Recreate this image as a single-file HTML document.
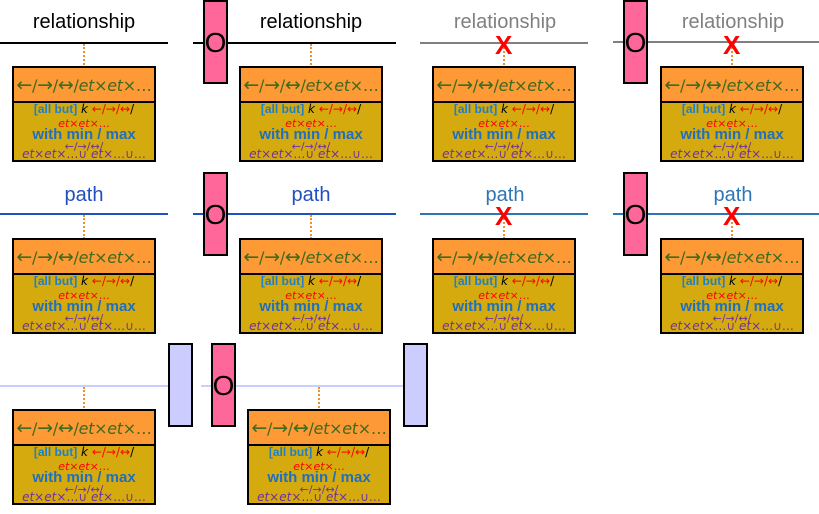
<!DOCTYPE html>
<html><head><meta charset="utf-8"><style>
body{margin:0;width:819px;height:514px;background:#fff;position:relative;overflow:hidden;font-family:"Liberation Sans",sans-serif}
.ln{position:absolute;height:2px}
.lbl{position:absolute;font-size:20px;text-align:center;width:200px}
.pk{position:absolute;width:21px;height:80px;background:#ff6699;border:2px solid #000;}
.pk span{position:absolute;left:-4px;width:29px;text-align:center;top:26px;font-size:28px;color:#000;line-height:30px}
.lv{position:absolute;width:21px;height:80px;background:#ccccff;border:2px solid #000}
.dot{position:absolute;width:0;border-left:2px dotted #f0902a;height:24px}
.x{position:absolute;color:#f00;font-weight:bold;font-size:26px;line-height:26px}
.box{position:absolute;width:140px;height:92px;border:2px solid #000;background:#d4aa0e;overflow:hidden}
.hd{height:33px;background:#fd9a35;border-bottom:2px solid #000;text-align:center;line-height:35px;font-size:16px;color:#3f6a1f;font-family:"DejaVu Sans",sans-serif;white-space:nowrap;letter-spacing:-0.3px}
.hd i,.b i{font-style:italic}
.ar{font-size:19px}
.b{position:absolute;left:0;width:140px;text-align:center;white-space:nowrap;font-family:"DejaVu Sans",sans-serif;line-height:1.1}
</style></head><body>

<div class="ln" style="left:0;top:42px;width:168px;background:#000"></div>
<div class="lbl" style="left:-16px;top:11px;color:#000">relationship</div>
<div class="ln" style="left:193px;top:42px;width:203px;background:#000"></div>
<div class="lbl" style="left:211px;top:11px;color:#000">relationship</div>
<div class="ln" style="left:420px;top:42px;width:168px;background:#808080"></div>
<div class="lbl" style="left:405px;top:11px;color:#808080">relationship</div>
<div class="ln" style="left:613px;top:41px;width:206px;background:#808080"></div>
<div class="lbl" style="left:633px;top:11px;color:#808080">relationship</div>
<div class="pk" style="left:203px;top:0px"><span>O</span></div>
<div class="pk" style="left:623px;top:0px"><span>O</span></div>

<div class="ln" style="left:0;top:213px;width:168px;background:#1f4fc0"></div>
<div class="lbl" style="left:-16px;top:184px;color:#1f4fc0">path</div>
<div class="ln" style="left:193px;top:213px;width:203px;background:#1f4fc0"></div>
<div class="lbl" style="left:211px;top:184px;color:#1f4fc0">path</div>
<div class="ln" style="left:420px;top:213px;width:168px;background:#2e75b6"></div>
<div class="lbl" style="left:405px;top:184px;color:#2e75b6">path</div>
<div class="ln" style="left:613px;top:213px;width:206px;background:#2e75b6"></div>
<div class="lbl" style="left:633px;top:184px;color:#2e75b6">path</div>
<div class="pk" style="left:203px;top:172px"><span>O</span></div>
<div class="pk" style="left:623px;top:172px"><span>O</span></div>

<div class="ln" style="left:0;top:385px;width:170px;background:#ccccff"></div>
<div class="ln" style="left:201px;top:385px;width:205px;background:#ccccff"></div>
<div class="lv" style="left:168px;top:343px"></div>
<div class="pk" style="left:211px;top:343px"><span>O</span></div>
<div class="lv" style="left:403px;top:343px"></div>

<div class="dot" style="left:83px;top:44px"></div>
<div class="dot" style="left:310px;top:44px"></div>
<div class="dot" style="left:503px;top:44px"></div>
<div class="dot" style="left:731px;top:44px"></div>
<div class="dot" style="left:83px;top:215px"></div>
<div class="dot" style="left:310px;top:215px"></div>
<div class="dot" style="left:503px;top:215px"></div>
<div class="dot" style="left:731px;top:215px"></div>
<div class="dot" style="left:83px;top:387px"></div>
<div class="dot" style="left:318px;top:387px"></div>

<div class="x" style="left:495px;top:32px">X</div>
<div class="x" style="left:723px;top:32px">X</div>
<div class="x" style="left:495px;top:203px">X</div>
<div class="x" style="left:723px;top:203px">X</div>

<div class="box" style="left:12px;top:66px">
<div class="hd"><span class="ar">←</span>/<span class="ar">→</span>/<span class="ar">↔</span>/<i>et</i>×<i>et</i>×…</div>
<div class="b" style="top:35px;font-size:12px"><b style="color:#1f7fc8;font-family:'Liberation Sans'">[all but]</b> <i>k</i> <span style="color:#f00">←/→/↔</span>/</div>
<div class="b" style="top:50px;font-size:11px;color:#f00"><i>et</i>×<i>et</i>×…</div>
<div class="b" style="top:59px;font-size:15px;color:#1f6fc0;font-weight:bold;font-family:'Liberation Sans'">with min / max</div>
<div class="b" style="top:73px;font-size:11px;color:#7030a0">←/→/↔/</div>
<div class="b" style="top:80px;font-size:12px;color:#7030a0"><i>et</i>×<i>et</i>×…∪ <i>et</i>×…∪…</div>
</div>
<div class="box" style="left:239px;top:66px">
<div class="hd"><span class="ar">←</span>/<span class="ar">→</span>/<span class="ar">↔</span>/<i>et</i>×<i>et</i>×…</div>
<div class="b" style="top:35px;font-size:12px"><b style="color:#1f7fc8;font-family:'Liberation Sans'">[all but]</b> <i>k</i> <span style="color:#f00">←/→/↔</span>/</div>
<div class="b" style="top:50px;font-size:11px;color:#f00"><i>et</i>×<i>et</i>×…</div>
<div class="b" style="top:59px;font-size:15px;color:#1f6fc0;font-weight:bold;font-family:'Liberation Sans'">with min / max</div>
<div class="b" style="top:73px;font-size:11px;color:#7030a0">←/→/↔/</div>
<div class="b" style="top:80px;font-size:12px;color:#7030a0"><i>et</i>×<i>et</i>×…∪ <i>et</i>×…∪…</div>
</div>
<div class="box" style="left:432px;top:66px">
<div class="hd"><span class="ar">←</span>/<span class="ar">→</span>/<span class="ar">↔</span>/<i>et</i>×<i>et</i>×…</div>
<div class="b" style="top:35px;font-size:12px"><b style="color:#1f7fc8;font-family:'Liberation Sans'">[all but]</b> <i>k</i> <span style="color:#f00">←/→/↔</span>/</div>
<div class="b" style="top:50px;font-size:11px;color:#f00"><i>et</i>×<i>et</i>×…</div>
<div class="b" style="top:59px;font-size:15px;color:#1f6fc0;font-weight:bold;font-family:'Liberation Sans'">with min / max</div>
<div class="b" style="top:73px;font-size:11px;color:#7030a0">←/→/↔/</div>
<div class="b" style="top:80px;font-size:12px;color:#7030a0"><i>et</i>×<i>et</i>×…∪ <i>et</i>×…∪…</div>
</div>
<div class="box" style="left:660px;top:66px">
<div class="hd"><span class="ar">←</span>/<span class="ar">→</span>/<span class="ar">↔</span>/<i>et</i>×<i>et</i>×…</div>
<div class="b" style="top:35px;font-size:12px"><b style="color:#1f7fc8;font-family:'Liberation Sans'">[all but]</b> <i>k</i> <span style="color:#f00">←/→/↔</span>/</div>
<div class="b" style="top:50px;font-size:11px;color:#f00"><i>et</i>×<i>et</i>×…</div>
<div class="b" style="top:59px;font-size:15px;color:#1f6fc0;font-weight:bold;font-family:'Liberation Sans'">with min / max</div>
<div class="b" style="top:73px;font-size:11px;color:#7030a0">←/→/↔/</div>
<div class="b" style="top:80px;font-size:12px;color:#7030a0"><i>et</i>×<i>et</i>×…∪ <i>et</i>×…∪…</div>
</div>

<div class="box" style="left:12px;top:238px">
<div class="hd"><span class="ar">←</span>/<span class="ar">→</span>/<span class="ar">↔</span>/<i>et</i>×<i>et</i>×…</div>
<div class="b" style="top:35px;font-size:12px"><b style="color:#1f7fc8;font-family:'Liberation Sans'">[all but]</b> <i>k</i> <span style="color:#f00">←/→/↔</span>/</div>
<div class="b" style="top:50px;font-size:11px;color:#f00"><i>et</i>×<i>et</i>×…</div>
<div class="b" style="top:59px;font-size:15px;color:#1f6fc0;font-weight:bold;font-family:'Liberation Sans'">with min / max</div>
<div class="b" style="top:73px;font-size:11px;color:#7030a0">←/→/↔/</div>
<div class="b" style="top:80px;font-size:12px;color:#7030a0"><i>et</i>×<i>et</i>×…∪ <i>et</i>×…∪…</div>
</div>
<div class="box" style="left:239px;top:238px">
<div class="hd"><span class="ar">←</span>/<span class="ar">→</span>/<span class="ar">↔</span>/<i>et</i>×<i>et</i>×…</div>
<div class="b" style="top:35px;font-size:12px"><b style="color:#1f7fc8;font-family:'Liberation Sans'">[all but]</b> <i>k</i> <span style="color:#f00">←/→/↔</span>/</div>
<div class="b" style="top:50px;font-size:11px;color:#f00"><i>et</i>×<i>et</i>×…</div>
<div class="b" style="top:59px;font-size:15px;color:#1f6fc0;font-weight:bold;font-family:'Liberation Sans'">with min / max</div>
<div class="b" style="top:73px;font-size:11px;color:#7030a0">←/→/↔/</div>
<div class="b" style="top:80px;font-size:12px;color:#7030a0"><i>et</i>×<i>et</i>×…∪ <i>et</i>×…∪…</div>
</div>
<div class="box" style="left:432px;top:238px">
<div class="hd"><span class="ar">←</span>/<span class="ar">→</span>/<span class="ar">↔</span>/<i>et</i>×<i>et</i>×…</div>
<div class="b" style="top:35px;font-size:12px"><b style="color:#1f7fc8;font-family:'Liberation Sans'">[all but]</b> <i>k</i> <span style="color:#f00">←/→/↔</span>/</div>
<div class="b" style="top:50px;font-size:11px;color:#f00"><i>et</i>×<i>et</i>×…</div>
<div class="b" style="top:59px;font-size:15px;color:#1f6fc0;font-weight:bold;font-family:'Liberation Sans'">with min / max</div>
<div class="b" style="top:73px;font-size:11px;color:#7030a0">←/→/↔/</div>
<div class="b" style="top:80px;font-size:12px;color:#7030a0"><i>et</i>×<i>et</i>×…∪ <i>et</i>×…∪…</div>
</div>
<div class="box" style="left:660px;top:238px">
<div class="hd"><span class="ar">←</span>/<span class="ar">→</span>/<span class="ar">↔</span>/<i>et</i>×<i>et</i>×…</div>
<div class="b" style="top:35px;font-size:12px"><b style="color:#1f7fc8;font-family:'Liberation Sans'">[all but]</b> <i>k</i> <span style="color:#f00">←/→/↔</span>/</div>
<div class="b" style="top:50px;font-size:11px;color:#f00"><i>et</i>×<i>et</i>×…</div>
<div class="b" style="top:59px;font-size:15px;color:#1f6fc0;font-weight:bold;font-family:'Liberation Sans'">with min / max</div>
<div class="b" style="top:73px;font-size:11px;color:#7030a0">←/→/↔/</div>
<div class="b" style="top:80px;font-size:12px;color:#7030a0"><i>et</i>×<i>et</i>×…∪ <i>et</i>×…∪…</div>
</div>

<div class="box" style="left:12px;top:409px">
<div class="hd"><span class="ar">←</span>/<span class="ar">→</span>/<span class="ar">↔</span>/<i>et</i>×<i>et</i>×…</div>
<div class="b" style="top:35px;font-size:12px"><b style="color:#1f7fc8;font-family:'Liberation Sans'">[all but]</b> <i>k</i> <span style="color:#f00">←/→/↔</span>/</div>
<div class="b" style="top:50px;font-size:11px;color:#f00"><i>et</i>×<i>et</i>×…</div>
<div class="b" style="top:59px;font-size:15px;color:#1f6fc0;font-weight:bold;font-family:'Liberation Sans'">with min / max</div>
<div class="b" style="top:73px;font-size:11px;color:#7030a0">←/→/↔/</div>
<div class="b" style="top:80px;font-size:12px;color:#7030a0"><i>et</i>×<i>et</i>×…∪ <i>et</i>×…∪…</div>
</div>
<div class="box" style="left:247px;top:409px">
<div class="hd"><span class="ar">←</span>/<span class="ar">→</span>/<span class="ar">↔</span>/<i>et</i>×<i>et</i>×…</div>
<div class="b" style="top:35px;font-size:12px"><b style="color:#1f7fc8;font-family:'Liberation Sans'">[all but]</b> <i>k</i> <span style="color:#f00">←/→/↔</span>/</div>
<div class="b" style="top:50px;font-size:11px;color:#f00"><i>et</i>×<i>et</i>×…</div>
<div class="b" style="top:59px;font-size:15px;color:#1f6fc0;font-weight:bold;font-family:'Liberation Sans'">with min / max</div>
<div class="b" style="top:73px;font-size:11px;color:#7030a0">←/→/↔/</div>
<div class="b" style="top:80px;font-size:12px;color:#7030a0"><i>et</i>×<i>et</i>×…∪ <i>et</i>×…∪…</div>
</div>

</body></html>
